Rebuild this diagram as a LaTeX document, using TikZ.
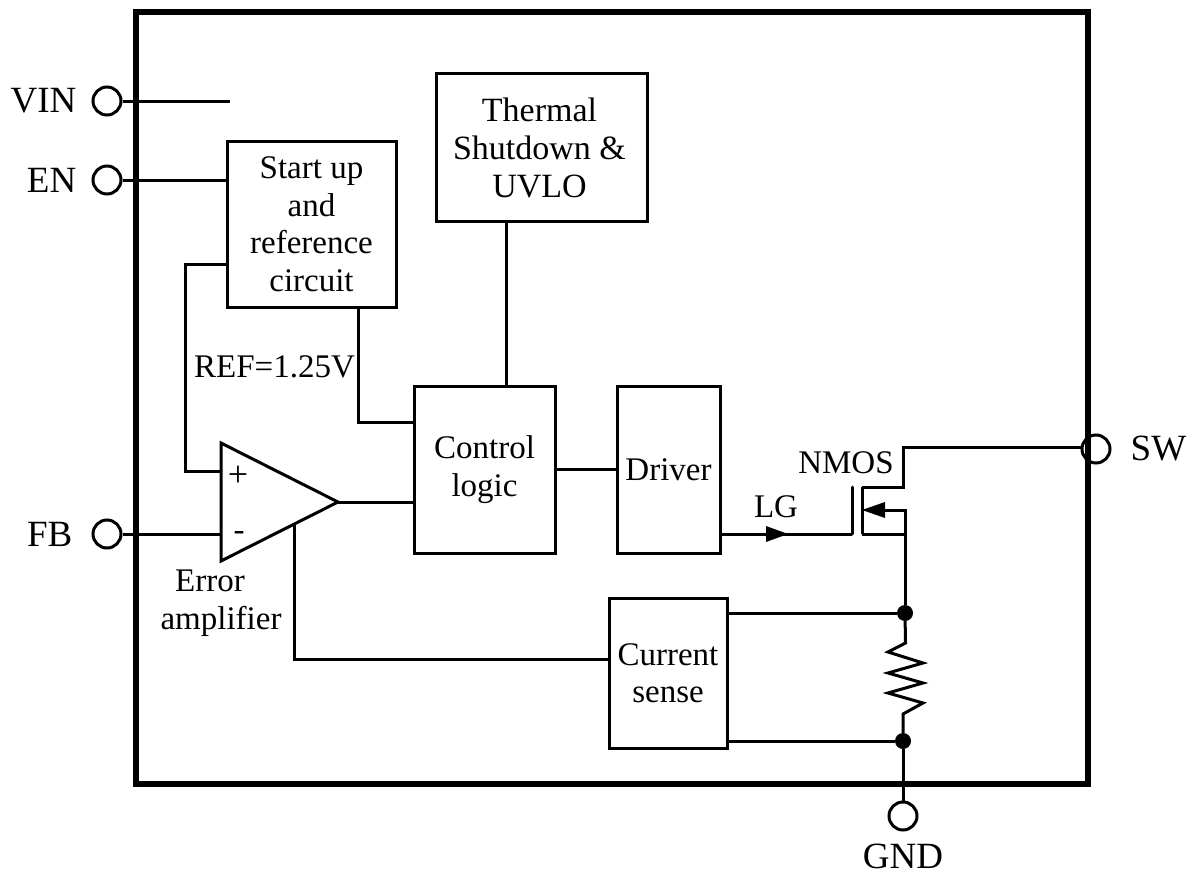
\documentclass[tikz,border=0pt]{standalone}
\usepackage{fontspec}
\usepackage{tikz}
\usetikzlibrary{positioning,decorations.markings}
\setmainfont{Liberation Serif}

\tikzset{
    wire/.style={line width=3pt, line join=miter},
    block/.style={draw, line width=3pt, align=center, inner sep=0pt},
    pinhole/.style={draw, circle, line width=3pt, minimum size=28pt, inner sep=0pt},
    tag/.style={inner sep=0pt, align=center},
    pintag/.style={tag, font=\fontsize{37}{43}\selectfont},
    junction/.style={fill, circle, minimum size=16pt, inner sep=0pt}
}

\begin{document}
\begin{tikzpicture}[x=1pt, y=-1pt, font=\fontsize{33}{37.5}\selectfont]

    \useasboundingbox (0,0) rectangle (1192,875);

    \draw[line width=6pt] (136,12) rectangle (1088,784);

    % blocks
    \node[block, minimum width=211pt, minimum height=147pt, font=\fontsize{34}{38}\selectfont] (thermal) at (541.5,147.5) {\hspace{-4pt}Thermal\\\hspace{-4pt}Shutdown \&\\\hspace{-4pt}UVLO};
    \node[block, minimum width=169pt, minimum height=166pt] (startup) at (311.5,224) {Start up\\and\\reference\\circuit};
    \node[block, minimum width=141pt, minimum height=167pt] (control) at (484.5,469.5) {Control\\logic};
    \node[block, minimum width=103pt, minimum height=167pt] (driver) at (668.5,469.5) {Driver};
    \node[block, minimum width=118pt, minimum height=150pt] (sense) at (668,673) {Current\\sense};

    % pins
    \node[pinhole] (vin) at (107,101) {};
    \node[pinhole] (en) at (107,180) {};
    \node[pinhole] (fb) at (107,534) {};
    \node[pinhole] (sw) at (1096,449) {};
    \node[pinhole] (gnd) at (903,816) {};

    \node[pintag, left=15pt of vin] (vintext) {VIN};
    \node[pintag, left=15pt of en] (entext) {EN};
    \node[pintag, left=19pt of fb] (fbtext) {FB};
    \node[pintag, right=19pt of sw] (swtext) {SW};
    \node[pintag] (gndtext) at (903,856) {GND};

    % amplifier
    \coordinate (amptop) at (221,443);
    \coordinate (ampbot) at (221,561);
    \coordinate (amptip) at (338,502);
    \coordinate (ampplus) at (221,471);
    \coordinate (ampminus) at (221,534);
    \coordinate (ampsense) at (294,525);
    \draw[wire] (amptop) -- (amptip) -- (ampbot) -- cycle;
    \node[tag, font=\fontsize{36}{40}\selectfont] (plussign) at (238,476) {+};
    \node[tag] (minussign) at (239,536) {-};
    \node[tag] (ampname) at (221,603) {\makebox[0pt][c]{\hspace{-22pt}Error}\\amplifier};

    % top wires
    \coordinate (vinend) at (230,101);
    \coordinate (refout) at (358,307);
    \coordinate (thermalout) at (506,221);
    \draw[wire] (vin) -- (vinend);
    \draw[wire] (en) -- (en -| startup.west);
    \draw[wire] (startup.west |- 0,264) -| (185,471) -- (ampplus);
    \draw[wire] (refout) |- (control.west |- 0,422);
    \draw[wire] (thermalout) -- (thermalout |- control.north);
    \node[tag] (reftext) at (274.5,367) {REF=1.25V};

    \draw[wire] (fb) -- (ampminus);
    \draw[wire] (amptip) -- (amptip -| control.west);
    \draw[wire] (ampsense) |- (sense.west |- 0,659);
    \draw[wire] (control.east) -- (driver.west);

    % transistor
    \coordinate (gatetop) at (852,487);
    \coordinate (gatebot) at (852,534);
    \coordinate (chantop) at (862,487);
    \coordinate (chanmid) at (862,510);
    \coordinate (chanbot) at (862,534);
    \coordinate (srcmid) at (905,510);
    \coordinate (srcbot) at (905,534);
    \draw[wire, line cap=round] (gatetop) -- (gatebot);
    \draw[wire] (chantop) -- (chanbot);
    \draw[wire] (chanbot) -- (srcbot);
    \draw[wire] (chantop) -- (903,487) -- (903,447) -- (sw.west |- 0,447);
    \draw[wire] (srcbot) -- (srcmid) -- (885,510);
    \fill (chanmid) -- (885,502) -- (885,518) -- cycle;

    \draw[wire] (driver.east |- gatebot) -- (gatebot);
    \fill (788,534) -- (766,526) -- (766,542) -- cycle;
    \node[tag] (nmostext) at (846,463) {NMOS};
    \node[tag] (lgtext) at (776,507) {LG};

    % sense resistor
    \node[junction] (senseup) at (905,613) {};
    \node[junction] (sensedn) at (903,741) {};
    \draw[wire] (srcbot) -- (senseup);
    \draw[wire] (senseup) -- (905.5,643) -- (888,652) -- (923,663) -- (888,673) -- (923,683) -- (888,693) -- (923,703) -- (903,714) -- (sensedn);
    \draw[wire] (sensedn) -- (gnd);
    \draw[wire] (sense.east |- senseup) -- (senseup);
    \draw[wire] (sense.east |- sensedn) -- (sensedn);

\end{tikzpicture}
\end{document}
